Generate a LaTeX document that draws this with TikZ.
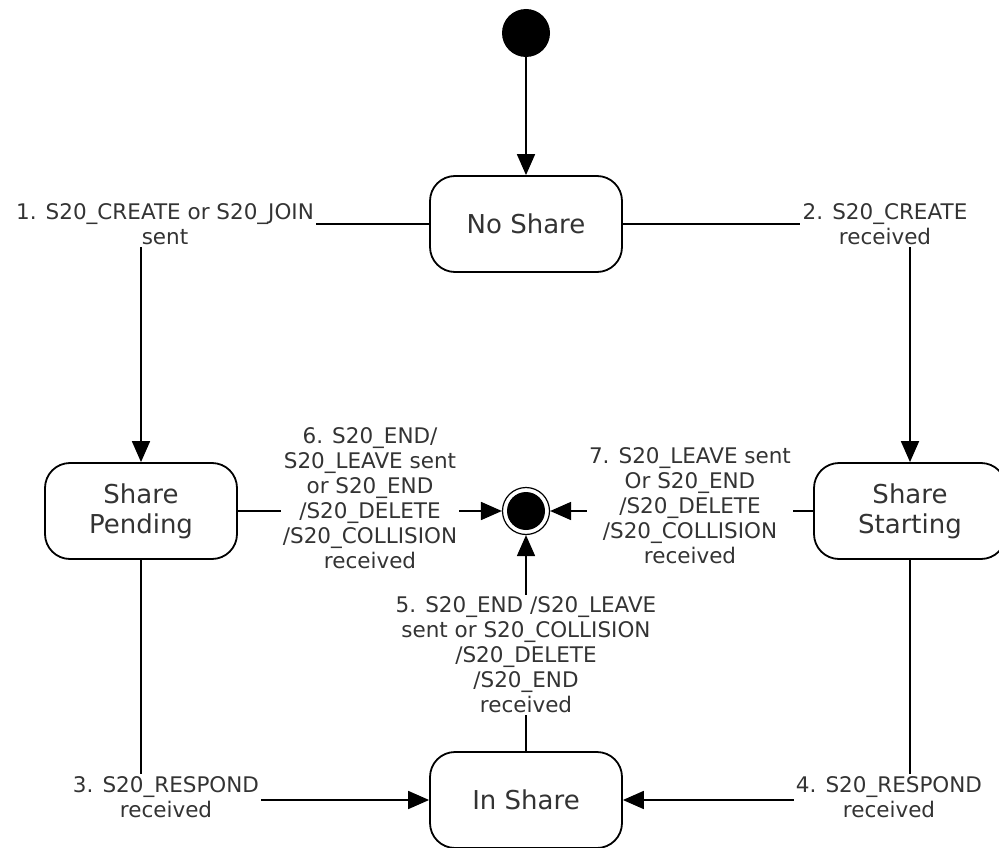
\documentclass[tikz,border=0pt]{standalone}
\usepackage{fontspec}
\setmainfont{DejaVu Sans}
\usetikzlibrary{arrows.meta}

\tikzset{
  state/.style={draw, line width=1.8pt, rounded corners=25pt, minimum width=192pt,
    minimum height=96pt, align=center, text=black!80, font=\fontsize{26}{30}\selectfont},
  lbl/.style={align=center, inner sep=2pt, text=black!80, font=\fontsize{21.5}{25}\selectfont},
  conn/.style={line width=1.8pt},
  arr/.style={line width=1.8pt, -{Triangle[length=21pt,width=18pt]}}
}

\begin{document}
\begin{tikzpicture}[x=1pt,y=-1pt]
    \useasboundingbox (0,0) rectangle (999,848);

    % Initial and final pseudo states
    \node[circle, fill, minimum size=48pt, inner sep=0pt] (init) at (526,33) {};
    \node[circle, draw, line width=1.2pt, minimum size=47pt, inner sep=0pt] (final) at (526,511) {};
    \fill (final) circle (19pt);

    % States
    \node[state] (noshare) at (526,224) {No Share};
    \node[state] (pending) at (141,511) {Share\\Pending};
    \node[state] (starting) at (910,511) {Share\\Starting};
    \node[state] (inshare) at (526,800) {In Share};

    % Transition labels
    \node[lbl] (l1) at (165,224) {1. S20\_CREATE or S20\_JOIN\\sent};
    \node[lbl] (l2) at (885,224) {2. S20\_CREATE\\received};
    \node[lbl] (l3) at (166,797) {3. S20\_RESPOND\\received};
    \node[lbl] (l4) at (889,797) {4. S20\_RESPOND\\received};
    \node[lbl] (l5) at (526,655) {5. S20\_END /S20\_LEAVE\\sent or S20\_COLLISION\\/S20\_DELETE\\/S20\_END\\received};
    \node[lbl] (l6) at (370,498) {6. S20\_END/\\S20\_LEAVE sent\\or S20\_END\\/S20\_DELETE\\/S20\_COLLISION\\received};
    \node[lbl] (l7) at (690,506) {7. S20\_LEAVE sent\\Or S20\_END\\/S20\_DELETE\\/S20\_COLLISION\\received};

    % Transitions
    \draw[arr] (init) -- (noshare);

    \draw[conn] (noshare.west) -- (l1.east |- noshare.west);
    \draw[arr] (pending.north |- l1.south) -- (pending.north);

    \draw[conn] (noshare.east) -- (l2.west |- noshare.east);
    \draw[arr] (starting.north |- l2.south) -- (starting.north);

    \draw[conn] (pending.south) -- (pending.south |- l3.north);
    \draw[arr] (l3.east |- inshare.west) -- (inshare.west);

    \draw[conn] (starting.south) -- (starting.south |- l4.north);
    \draw[arr] (l4.west |- inshare.east) -- (inshare.east);

    \draw[conn] (inshare.north) -- (l5.south);
    \draw[arr] (l5.north) -- (final.south);

    \draw[conn] (pending.east) -- (pending.east -| l6.west);
    \draw[arr] (l6.east |- final.west) -- (final.west);

    \draw[conn] (starting.west) -- (starting.west -| l7.east);
    \draw[arr] (l7.west |- final.east) -- (final.east);
\end{tikzpicture}
\end{document}
